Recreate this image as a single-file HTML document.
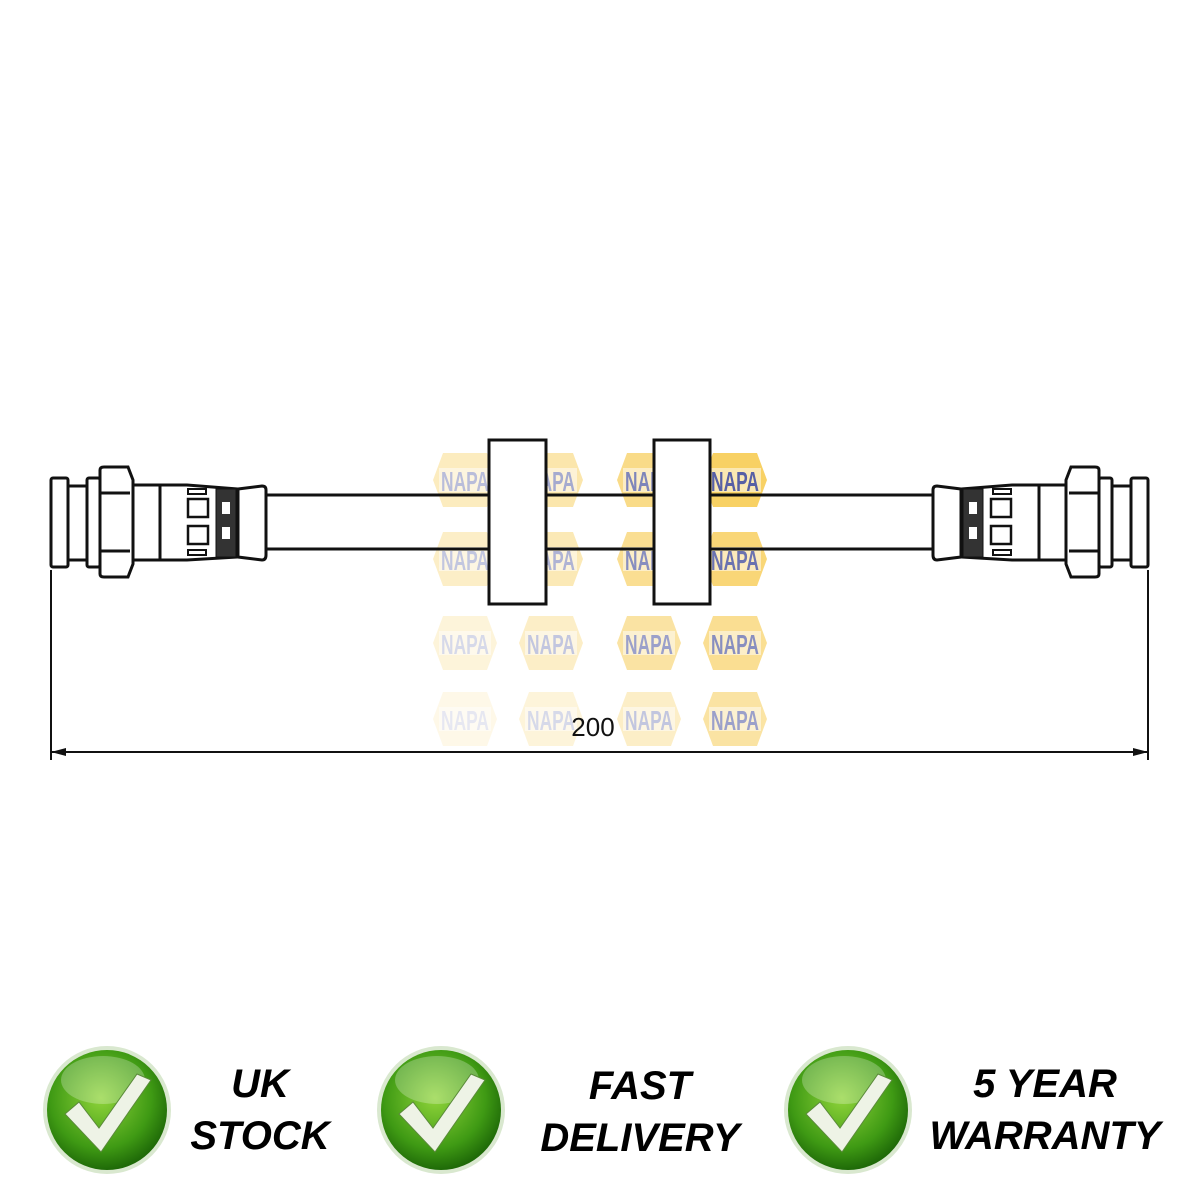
<!DOCTYPE html>
<html><head><style>
body{margin:0;background:#fff;}
.t{position:absolute;font-family:"Liberation Sans",sans-serif;font-weight:bold;font-style:italic;font-size:40px;color:#000;text-align:center;line-height:52px;}
</style></head><body>
<div style="position:relative;width:1200px;height:1200px;overflow:hidden;">
<svg width="1200" height="1200" style="position:absolute;left:0;top:0">
<defs>
<g id="hx"><polygon points="-22,-27 22,-27 32,0 22,27 -22,27 -32,0" fill="#f7c94a"/><rect x="-26" y="-12" width="52" height="24" fill="#fff" opacity="0.5"/><text x="0" y="11" text-anchor="middle" font-family="Liberation Sans,sans-serif" font-weight="bold" font-size="28" fill="#3a4496" transform="scale(0.62,1)">NAPA</text></g>
<radialGradient id="gg" cx="45%" cy="40%" r="60%"><stop offset="0" stop-color="#8fd43a"/><stop offset="0.7" stop-color="#3f9a14"/><stop offset="1" stop-color="#1f6a08"/></radialGradient>
<g id="ck"><circle r="64" fill="#d9e8cf"/><circle r="60" fill="url(#gg)"/><ellipse cx="-4" cy="-30" rx="42" ry="24" fill="#fff" opacity="0.25"/><path d="M-42,4 L-28,-8 L-8,18 L30,-36 L44,-30 L-6,42 Z" fill="#eef3e6" stroke="#5a8a3a" stroke-width="1"/></g>
</defs>
<g>
<use href="#hx" x="465" y="480" opacity="0.35"/><use href="#hx" x="551" y="480" opacity="0.45"/><use href="#hx" x="649" y="480" opacity="0.65"/><use href="#hx" x="735" y="480" opacity="0.85"/>
<use href="#hx" x="465" y="559" opacity="0.3"/><use href="#hx" x="551" y="559" opacity="0.4"/><use href="#hx" x="649" y="559" opacity="0.6"/><use href="#hx" x="735" y="559" opacity="0.75"/>
<use href="#hx" x="465" y="643" opacity="0.2"/><use href="#hx" x="551" y="643" opacity="0.3"/><use href="#hx" x="649" y="643" opacity="0.5"/><use href="#hx" x="735" y="643" opacity="0.6"/>
<use href="#hx" x="465" y="719" opacity="0.12"/><use href="#hx" x="551" y="719" opacity="0.2"/><use href="#hx" x="649" y="719" opacity="0.3"/><use href="#hx" x="735" y="719" opacity="0.5"/>
</g>
<g fill="none" stroke="#111" stroke-width="3">
<line x1="267" y1="495" x2="933" y2="495"/><line x1="267" y1="549" x2="933" y2="549"/>
<rect x="489" y="440" width="57" height="164" fill="#fff"/>
<rect x="654" y="440" width="56" height="164" fill="#fff"/>
<g id="fit">
<rect x="51" y="478" width="17" height="89" rx="2" fill="#fff"/>
<rect x="68" y="486" width="20" height="74" fill="#fff"/>
<rect x="87" y="478" width="13" height="89" rx="2" fill="#fff"/>
<path d="M100,470 Q100,467 104,467 L128,467 L133,480 L133,564 L128,577 L104,577 Q100,577 100,574 Z" fill="#fff"/>
<line x1="100" y1="493" x2="130" y2="493"/><line x1="100" y1="551" x2="130" y2="551"/>
<path d="M133,485 L187,485 L238,489 L238,557 L187,560 L133,560 Z" fill="#fff"/>
<line x1="160" y1="485" x2="160" y2="560"/>
<rect x="188" y="499" width="20" height="18" stroke-width="2.5"/><rect x="188" y="526" width="20" height="18" stroke-width="2.5"/>
<rect x="188" y="489" width="18" height="5" stroke-width="2"/><rect x="188" y="550" width="18" height="5" stroke-width="2"/>
<rect x="216" y="489" width="20" height="68" fill="#333" stroke-width="1"/>
<rect x="222" y="502" width="8" height="12" fill="#fff" stroke="none"/><rect x="222" y="527" width="8" height="12" fill="#fff" stroke="none"/>
<path d="M238,489 L262,486 Q266,486 266,490 L266,555 Q266,560 262,560 L238,557 Z" fill="#fff"/>
</g>
<use href="#fit" transform="translate(1199,0) scale(-1,1)"/>
<line x1="51" y1="570" x2="51" y2="760" stroke-width="2"/>
<line x1="1148" y1="570" x2="1148" y2="760" stroke-width="2"/>
<line x1="51" y1="752" x2="1148" y2="752" stroke-width="2"/>
</g>
<path d="M51,752 L66,748 L66,756 Z M1148,752 L1133,748 L1133,756 Z" fill="#111"/>
<text x="593" y="736" text-anchor="middle" font-family="Liberation Sans,sans-serif" font-size="26" fill="#111">200</text>
<use href="#ck" x="107" y="1110"/>
<use href="#ck" x="441" y="1110"/>
<use href="#ck" x="848" y="1110"/>
</svg>
<div class="t" style="left:160px;top:1058px;width:200px">UK<br>STOCK</div>
<div class="t" style="left:520px;top:1060px;width:240px">FAST<br>DELIVERY</div>
<div class="t" style="left:910px;top:1058px;width:270px">5 YEAR<br>WARRANTY</div>
</div>
</body></html>
